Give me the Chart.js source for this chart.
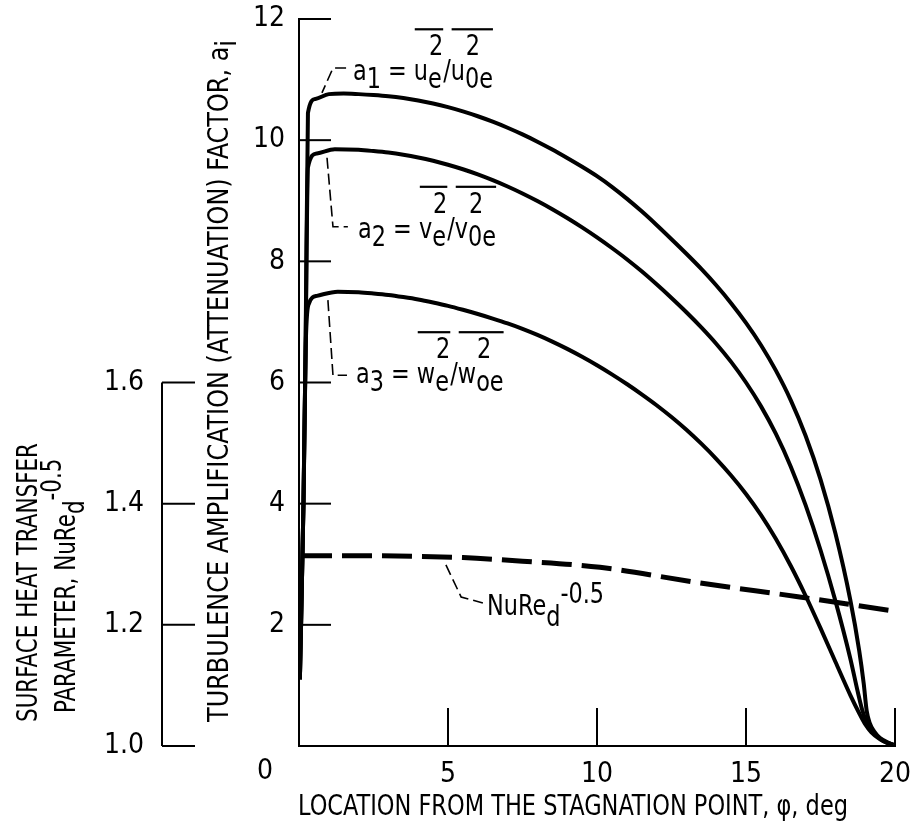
<!DOCTYPE html>
<html>
<head>
<meta charset="utf-8">
<script src="https://cdn.jsdelivr.net/npm/chart.js@4.4.0/dist/chart.umd.min.js"></script>
<style>
html, body { margin: 0; padding: 0; background: #fff; }
canvas { display: block; }
</style>
</head>
<body>
<canvas id="chart" width="912" height="828"></canvas>
<script>
const FONT = '"Liberation Sans Narrow", "DejaVu Sans Condensed", "Roboto Condensed", "Liberation Sans", sans-serif';
const FS = 28;

// location from stagnation point (deg) and amplification factor a_i
const a1Phi = [0.03, 0.15, 0.22, 0.3, 0.55, 1.0, 1.5, 2, 2.5, 3, 3.5, 4, 4.5, 5, 5.5, 6, 6.5, 7, 7.5, 8, 8.5, 9, 9.5, 10, 10.5, 11, 11.5, 12, 12.5, 13, 13.5, 14, 14.5, 15, 15.5, 16, 16.5, 17, 17.5, 18, 18.5, 18.8, 18.95, 19.05, 19.15, 19.3, 19.5, 19.75, 19.95];
const a1Val = [1.1, 4.0, 6.5, 10.45, 10.68, 10.76, 10.77, 10.76, 10.745, 10.725, 10.695, 10.655, 10.605, 10.545, 10.475, 10.395, 10.305, 10.205, 10.095, 9.975, 9.845, 9.705, 9.56, 9.405, 9.23, 9.035, 8.825, 8.6, 8.365, 8.125, 7.875, 7.605, 7.31, 6.985, 6.62, 6.2, 5.71, 5.12, 4.4, 3.51, 2.41, 1.57, 1.03, 0.58, 0.38, 0.24, 0.13, 0.06, 0.02];

const a2Phi = [0.03, 0.15, 0.22, 0.3, 0.6, 1.2, 2, 2.5, 3, 3.5, 4, 4.5, 5, 5.5, 6, 6.5, 7, 7.5, 8, 8.5, 9, 9.5, 10, 10.5, 11, 11.5, 12, 12.5, 13, 13.5, 14, 14.5, 15, 15.5, 16, 16.5, 17, 17.5, 18, 18.5, 18.75, 18.9, 19.05, 19.2, 19.45, 19.7, 19.95];
const a2Val = [1.1, 4.0, 6.5, 9.55, 9.78, 9.85, 9.84, 9.82, 9.795, 9.76, 9.715, 9.66, 9.595, 9.52, 9.435, 9.34, 9.235, 9.12, 8.995, 8.86, 8.715, 8.56, 8.395, 8.22, 8.035, 7.835, 7.62, 7.395, 7.16, 6.91, 6.64, 6.34, 6.0, 5.61, 5.155, 4.615, 3.975, 3.235, 2.395, 1.445, 0.895, 0.595, 0.39, 0.26, 0.14, 0.06, 0.02];

const a3Phi = [0.03, 0.15, 0.22, 0.33, 0.6, 1.3, 2, 2.5, 3, 3.5, 4, 4.5, 5, 5.5, 6, 6.5, 7, 7.5, 8, 8.5, 9, 9.5, 10, 10.5, 11, 11.5, 12, 12.5, 13, 13.5, 14, 14.5, 15, 15.5, 16, 16.5, 17, 17.5, 18, 18.5, 18.8, 19.0, 19.2, 19.5, 19.75, 19.95];
const a3Val = [1.1, 4.0, 6.5, 7.3, 7.43, 7.5, 7.49, 7.47, 7.445, 7.41, 7.37, 7.32, 7.265, 7.2, 7.13, 7.055, 6.975, 6.885, 6.785, 6.675, 6.555, 6.425, 6.285, 6.135, 5.975, 5.805, 5.625, 5.43, 5.22, 4.99, 4.74, 4.465, 4.16, 3.815, 3.42, 2.975, 2.48, 1.945, 1.39, 0.84, 0.54, 0.36, 0.23, 0.11, 0.05, 0.02];

// surface heat transfer parameter NuRe_d^-0.5
const nuPhi = [0.1, 2, 4, 5.5, 7.5, 10.1, 13.46, 16.8, 19.8];
const nuVal = [1.314, 1.314, 1.313, 1.311, 1.305, 1.295, 1.269, 1.246, 1.224];

const xTicks = [5, 10, 15, 20];
const yTicks = [2, 4, 6, 8, 10, 12];
const hTicks = [1.0, 1.2, 1.4, 1.6];
const hLabels = ['1.0', '1.2', '1.4', '1.6'];

function pts(xs, ys) {
    return xs.map((v, i) => ({ x: v, y: ys[i] }));
}

function line(c, pts) {
    c.beginPath();
    c.moveTo(pts[0][0], pts[0][1]);
    for (let i = 1; i < pts.length; i++) c.lineTo(pts[i][0], pts[i][1]);
    c.stroke();
}

// text made of pieces; {b, sub, sup} is a letter with a sub/superscript stack under an overbar
function rich(c, x, base, parts, draw = true) {
    c.font = FS + 'px ' + FONT;
    c.textAlign = 'left';
    c.textBaseline = 'alphabetic';
    for (const p of parts) {
        if (p.b) {
            const x0 = x;
            if (draw) c.fillText(p.b, x, base);
            x += c.measureText(p.b).width;
            if (draw) {
                c.fillText(p.sub, x, base + 8);
                c.fillText(p.sup, x + 1, base - 25);
            }
            x += Math.max(c.measureText(p.sub).width, c.measureText(p.sup).width + 1);
            if (draw) c.fillRect(x0 + 1, base - 52, x - x0 - 1, 2.2);
        } else {
            if (draw) c.fillText(p.t, x, base + (p.dy || 0));
            x += c.measureText(p.t).width;
        }
    }
    return x;
}

// squeeze text horizontally (in its own frame) so it reads like the condensed original
function squeezed(c, x, y, rot, k, parts) {
    c.save();
    c.translate(x, y);
    c.rotate(rot);
    c.scale(k, 1);
    rich(c, 0, 0, parts);
    c.restore();
}

const xTitle = [{ t: 'LOCATION FROM THE STAGNATION POINT, \u03c6, deg' }];
const yTitle = [{ t: 'TURBULENCE AMPLIFICATION (ATTENUATION) FACTOR, a' }, { t: 'i', dy: 8 }];
const hTitle1 = [{ t: 'SURFACE HEAT TRANSFER' }];
const hTitle2 = [{ t: 'PARAMETER, NuRe' }, { t: 'd', dy: 9 }, { t: '-0.5', dy: -14 }];

const decor = {
    id: 'decor',
    afterDraw(chart) {
        const c = chart.ctx;
        const sx = chart.scales.x, sy = chart.scales.y, s2 = chart.scales.y2;
        const P = (phi, a) => [sx.getPixelForValue(phi), sy.getPixelForValue(a)];
        const up = -Math.PI / 2;
        c.save();
        c.strokeStyle = '#000';
        c.fillStyle = '#000';
        c.lineWidth = 2;

        // inward tick marks
        for (const v of yTicks) {
            const py = sy.getPixelForValue(v);
            line(c, [[sx.left, py], [sx.left + 32, py]]);
        }
        for (const v of xTicks) {
            const px = sx.getPixelForValue(v);
            line(c, [[px, sy.bottom], [px, sy.bottom - 38]]);
        }

        // heat transfer axis
        const hx = 162;
        line(c, [[hx, s2.getPixelForValue(1.0)], [hx, s2.getPixelForValue(1.6)]]);
        c.font = FS + 'px ' + FONT;
        c.textAlign = 'right';
        c.textBaseline = 'middle';
        hTicks.forEach((v, i) => {
            const py = s2.getPixelForValue(v);
            line(c, [[hx, py], [hx + 33, py]]);
            c.fillText(hLabels[i], hx - 18, py);
        });

        // shared origin label
        c.textAlign = 'center';
        c.fillText('0', 265, 772);

        // titles
        squeezed(c, 298, 815, 0, 550 / rich(c, 0, 0, xTitle, false), xTitle);
        squeezed(c, 228, 722, up, 682 / rich(c, 0, 0, yTitle, false), yTitle);
        const kh = 279 / rich(c, 0, 0, hTitle1, false);
        squeezed(c, 37, 722, up, kh, hTitle1);
        squeezed(c, 75, 713, up, kh, hTitle2);

        // curve labels with leaders
        c.lineWidth = 1.6;
        c.setLineDash([11, 5]);
        line(c, [P(1.58, 11.19), P(1.14, 11.19), P(0.77, 10.78)]);
        line(c, [P(0.94, 9.71), P(1.14, 8.57), P(1.64, 8.57)]);
        line(c, [P(0.97, 7.36), P(1.14, 6.12), P(1.61, 6.12)]);
        line(c, [P(4.93, 2.99), P(5.44, 2.46), P(6.17, 2.36)]);
        c.setLineDash([]);

        const lab1 = [{ t: 'a' }, { t: '1', dy: 8 }, { t: ' = ' }, { b: 'u', sub: 'e', sup: '2' }, { t: '/' }, { b: 'u', sub: '0e', sup: '2' }];
        const lab2 = [{ t: 'a' }, { t: '2', dy: 8 }, { t: ' = ' }, { b: 'v', sub: 'e', sup: '2' }, { t: '/' }, { b: 'v', sub: '0e', sup: '2' }];
        const lab3 = [{ t: 'a' }, { t: '3', dy: 8 }, { t: ' = ' }, { b: 'w', sub: 'e', sup: '2' }, { t: '/' }, { b: 'w', sub: 'oe', sup: '2' }];
        const labNu = [{ t: 'NuRe' }, { t: 'd', dy: 11 }, { t: '-0.5', dy: -12 }];
        const kl = 140 / rich(c, 0, 0, lab1, false);
        let q = P(1.81, 10.99);
        squeezed(c, q[0], q[1], 0, kl, lab1);
        q = P(1.98, 8.39);
        squeezed(c, q[0], q[1], 0, kl, lab2);
        q = P(1.91, 5.99);
        squeezed(c, q[0], q[1], 0, kl, lab3);
        q = P(6.31, 2.16);
        squeezed(c, q[0], q[1], 0, kl, labNu);

        c.restore();
    }
};

const solid = { borderColor: '#000', borderWidth: 4, pointRadius: 0, fill: false, cubicInterpolationMode: 'monotone', yAxisID: 'y' };
const tickFont = { family: FONT, size: FS };

new Chart(document.getElementById('chart'), {
    type: 'line',
    data: {
        datasets: [
            { ...solid, label: 'a1', data: pts(a1Phi, a1Val) },
            { ...solid, label: 'a2', data: pts(a2Phi, a2Val) },
            { ...solid, label: 'a3', data: pts(a3Phi, a3Val) },
            { label: 'NuRe', data: pts(nuPhi, nuVal), borderColor: '#000', borderWidth: 5, borderDash: [30, 10], pointRadius: 0, fill: false, cubicInterpolationMode: 'monotone', yAxisID: 'y2' }
        ]
    },
    options: {
        responsive: false,
        animation: false,
        layout: { padding: { top: 19, right: 17, left: 0, bottom: 0 } },
        plugins: { legend: { display: false }, tooltip: { enabled: false } },
        scales: {
            x: {
                type: 'linear', min: 0, max: 20,
                ticks: { stepSize: 5, font: tickFont, color: '#000', padding: 12, maxRotation: 0, callback: v => v === 0 ? '' : v },
                grid: { display: false, drawTicks: false },
                border: { display: true, color: '#000', width: 2 },
                afterFit: s => { s.height = 82; s.paddingLeft = 0; s.paddingRight = 0; }
            },
            y: {
                type: 'linear', min: 0, max: 12,
                ticks: { stepSize: 2, font: tickFont, color: '#000', padding: 14, callback: v => v === 0 ? '' : v },
                grid: { display: false, drawTicks: false },
                border: { display: true, color: '#000', width: 2 },
                afterFit: s => { s.width = 299; s.paddingTop = 0; s.paddingBottom = 0; }
            },
            y2: { type: 'linear', display: false, min: 1.0, max: 2.2 }
        }
    },
    plugins: [decor]
});
</script>
</body>
</html>
